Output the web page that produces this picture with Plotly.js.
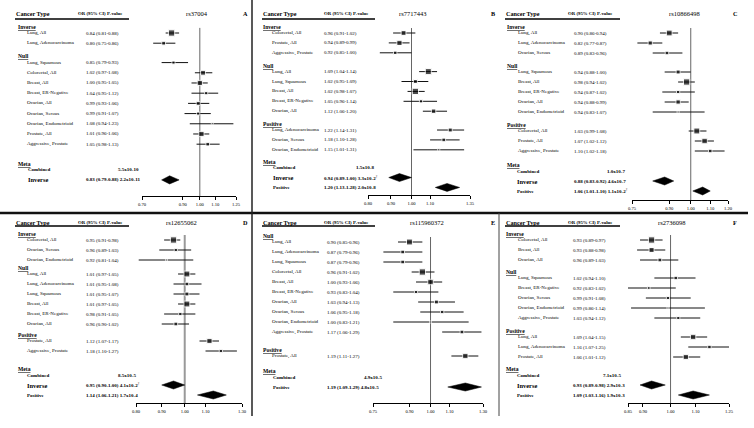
<!DOCTYPE html>
<html>
<head>
<meta charset="utf-8">
<script src="https://cdn.plot.ly/plotly-3.0.1.min.js"></script>
<style>
  body { margin: 0; background: #fff; }
  #graph { width: 754px; height: 428px; }
</style>
</head>
<body>
<div id="graph"></div>
<script>
// ---- panel A : rs37004
var aSnp = 'rs37004';
var aLabel = ['Lung, All', 'Lung, Adenocarcinoma', 'Lung, Squamous', 'Colorectal, All', 'Breast, All', 'Breast, ER-Negative', 'Ovarian, All', 'Ovarian, Serous', 'Ovarian, Endometrioid', 'Prostate, All', 'Aggressive, Prostate'];
var aGroup = ['Inverse', 'Inverse', 'Null', 'Null', 'Null', 'Null', 'Null', 'Null', 'Null', 'Null', 'Null'];
var aOR = [0.84, 0.80, 0.85, 1.02, 1.00, 1.04, 0.99, 0.99, 1.08, 1.01, 1.05];
var aLo = [0.81, 0.75, 0.79, 0.97, 0.95, 0.95, 0.93, 0.91, 0.94, 0.96, 0.98];
var aHi = [0.88, 0.86, 0.93, 1.08, 1.05, 1.12, 1.06, 1.07, 1.23, 1.06, 1.13];
var aCombP = '5.5x10-10';
var aMetaLabel = ['Inverse'];
var aMetaOR = [0.83];
var aMetaLo = [0.79];
var aMetaHi = [0.88];
var aMetaP = ['2.2x10-11'];
var aMetaNote = [''];
var aTicks = [0.70, 0.90, 1.00, 1.10, 1.25];

// ---- panel B : rs7717443
var bSnp = 'rs7717443';
var bLabel = ['Colorectal, All', 'Prostate, All', 'Aggressive, Prostate', 'Lung, All', 'Lung, Squamous', 'Breast, All', 'Breast, ER-Negative', 'Ovarian, All', 'Lung, Adenocarcinoma', 'Ovarian, Serous', 'Ovarian, Endometrioid'];
var bGroup = ['Inverse', 'Inverse', 'Inverse', 'Null', 'Null', 'Null', 'Null', 'Null', 'Positive', 'Positive', 'Positive'];
var bOR = [0.96, 0.94, 0.92, 1.09, 1.02, 1.02, 1.05, 1.12, 1.22, 1.18, 1.15];
var bLo = [0.91, 0.89, 0.85, 1.04, 0.95, 0.98, 0.96, 1.06, 1.14, 1.10, 1.01];
var bHi = [1.02, 0.99, 1.00, 1.14, 1.09, 1.07, 1.14, 1.20, 1.31, 1.28, 1.31];
var bCombP = '1.5x10-8';
var bMetaLabel = ['Inverse', 'Positive'];
var bMetaOR = [0.94, 1.20];
var bMetaLo = [0.89, 1.13];
var bMetaHi = [1.00, 1.28];
var bMetaP = ['3.3x10-2', '2.0x10-8'];
var bMetaNote = ['\u2020', ''];
var bTicks = [0.80, 0.90, 1.00, 1.10, 1.35];

// ---- panel C : rs10866498
var cSnp = 'rs10866498';
var cLabel = ['Lung, All', 'Lung, Adenocarcinoma', 'Ovarian, Serous', 'Lung, Squamous', 'Breast, All', 'Breast, ER-Negative', 'Ovarian, All', 'Ovarian, Endometrioid', 'Colorectal, All', 'Prostate, All', 'Aggressive, Prostate'];
var cGroup = ['Inverse', 'Inverse', 'Inverse', 'Null', 'Null', 'Null', 'Null', 'Null', 'Positive', 'Positive', 'Positive'];
var cOR = [0.90, 0.82, 0.89, 0.94, 0.98, 0.94, 0.94, 0.94, 1.03, 1.07, 1.10];
var cLo = [0.86, 0.77, 0.83, 0.88, 0.94, 0.87, 0.88, 0.83, 0.99, 1.02, 1.02];
var cHi = [0.94, 0.87, 0.96, 1.00, 1.02, 1.02, 0.99, 1.07, 1.08, 1.12, 1.18];
var cCombP = '1.0x10-7';
var cMetaLabel = ['Inverse', 'Positive'];
var cMetaOR = [0.88, 1.06];
var cMetaLo = [0.83, 1.01];
var cMetaHi = [0.92, 1.10];
var cMetaP = ['4.6x10-7', '1.1x10-2'];
var cMetaNote = ['', '\u2020'];
var cTicks = [0.75, 0.90, 1.00, 1.10, 1.20];

// ---- panel D : rs12655062
var dSnp = 'rs12655062';
var dLabel = ['Colorectal, All', 'Ovarian, Serous', 'Ovarian, Endometrioid', 'Lung, All', 'Lung, Adenocarcinoma', 'Lung, Squamous', 'Breast, All', 'Breast, ER-Negative', 'Ovarian, All', 'Prostate, All', 'Aggressive, Prostate'];
var dGroup = ['Inverse', 'Inverse', 'Inverse', 'Null', 'Null', 'Null', 'Null', 'Null', 'Null', 'Positive', 'Positive'];
var dOR = [0.95, 0.96, 0.92, 1.01, 1.01, 1.01, 1.01, 0.98, 0.96, 1.12, 1.18];
var dLo = [0.91, 0.89, 0.81, 0.97, 0.95, 0.95, 0.97, 0.91, 0.90, 1.07, 1.10];
var dHi = [0.98, 1.03, 1.04, 1.05, 1.08, 1.07, 1.05, 1.05, 1.02, 1.17, 1.27];
var dCombP = '8.5x10-5';
var dMetaLabel = ['Inverse', 'Positive'];
var dMetaOR = [0.95, 1.14];
var dMetaLo = [0.90, 1.06];
var dMetaHi = [1.00, 1.21];
var dMetaP = ['4.1x10-2', '1.7x10-4'];
var dMetaNote = ['\u2020', ''];
var dTicks = [0.80, 0.90, 1.00, 1.10, 1.30];

// ---- panel E : rs115960372
var eSnp = 'rs115960372';
var eLabel = ['Lung, All', 'Lung, Adenocarcinoma', 'Lung, Squamous', 'Colorectal, All', 'Breast, All', 'Breast, ER-Negative', 'Ovarian, All', 'Ovarian, Serous', 'Ovarian, Endometrioid', 'Aggressive, Prostate', 'Prostate, All'];
var eGroup = ['Null', 'Null', 'Null', 'Null', 'Null', 'Null', 'Null', 'Null', 'Null', 'Null', 'Positive'];
var eOR = [0.90, 0.87, 0.87, 0.96, 1.00, 0.93, 1.03, 1.06, 1.00, 1.17, 1.19];
var eLo = [0.85, 0.79, 0.79, 0.91, 0.93, 0.83, 0.94, 0.95, 0.83, 1.06, 1.11];
var eHi = [0.96, 0.96, 0.96, 1.02, 1.06, 1.04, 1.13, 1.18, 1.21, 1.29, 1.27];
var eCombP = '4.9x10-5';
var eMetaLabel = ['Positive'];
var eMetaOR = [1.19];
var eMetaLo = [1.09];
var eMetaHi = [1.29];
var eMetaP = ['4.8x10-5'];
var eMetaNote = [''];
var eTicks = [0.75, 0.90, 1.00, 1.10, 1.30];

// ---- panel F : rs2736098
var fSnp = 'rs2736098';
var fLabel = ['Colorectal, All', 'Breast, All', 'Ovarian, All', 'Lung, Squamous', 'Breast, ER-Negative', 'Ovarian, Serous', 'Ovarian, Endometrioid', 'Aggressive, Prostate', 'Lung, All', 'Lung, Adenocarcinoma', 'Prostate, All'];
var fGroup = ['Inverse', 'Inverse', 'Inverse', 'Null', 'Null', 'Null', 'Null', 'Null', 'Positive', 'Positive', 'Positive'];
var fOR = [0.93, 0.93, 0.96, 1.02, 0.92, 0.99, 0.99, 1.03, 1.09, 1.16, 1.06];
var fLo = [0.89, 0.88, 0.89, 0.94, 0.83, 0.91, 0.86, 0.94, 1.04, 1.07, 1.01];
var fHi = [0.97, 0.98, 1.03, 1.10, 1.02, 1.08, 1.14, 1.12, 1.15, 1.25, 1.12];
var fCombP = '7.1x10-5';
var fMetaLabel = ['Inverse', 'Positive'];
var fMetaOR = [0.93, 1.09];
var fMetaLo = [0.89, 1.03];
var fMetaHi = [0.98, 1.16];
var fMetaP = ['2.9x10-3', '1.9x10-3'];
var fMetaNote = ['', ''];
var fTicks = [0.85, 0.90, 1.00, 1.10, 1.25];

var panels = [
  {tag: 'A', snp: aSnp, label: aLabel, group: aGroup, or: aOR, lo: aLo, hi: aHi, comb: aCombP, mLabel: aMetaLabel, mOR: aMetaOR, mLo: aMetaLo, mHi: aMetaHi, mP: aMetaP, mNote: aMetaNote, ticks: aTicks},
  {tag: 'B', snp: bSnp, label: bLabel, group: bGroup, or: bOR, lo: bLo, hi: bHi, comb: bCombP, mLabel: bMetaLabel, mOR: bMetaOR, mLo: bMetaLo, mHi: bMetaHi, mP: bMetaP, mNote: bMetaNote, ticks: bTicks},
  {tag: 'C', snp: cSnp, label: cLabel, group: cGroup, or: cOR, lo: cLo, hi: cHi, comb: cCombP, mLabel: cMetaLabel, mOR: cMetaOR, mLo: cMetaLo, mHi: cMetaHi, mP: cMetaP, mNote: cMetaNote, ticks: cTicks},
  {tag: 'D', snp: dSnp, label: dLabel, group: dGroup, or: dOR, lo: dLo, hi: dHi, comb: dCombP, mLabel: dMetaLabel, mOR: dMetaOR, mLo: dMetaLo, mHi: dMetaHi, mP: dMetaP, mNote: dMetaNote, ticks: dTicks},
  {tag: 'E', snp: eSnp, label: eLabel, group: eGroup, or: eOR, lo: eLo, hi: eHi, comb: eCombP, mLabel: eMetaLabel, mOR: eMetaOR, mLo: eMetaLo, mHi: eMetaHi, mP: eMetaP, mNote: eMetaNote, ticks: eTicks},
  {tag: 'F', snp: fSnp, label: fLabel, group: fGroup, or: fOR, lo: fLo, hi: fHi, comb: fCombP, mLabel: fMetaLabel, mOR: fMetaOR, mLo: fMetaLo, mHi: fMetaHi, mP: fMetaP, mNote: fMetaNote, ticks: fTicks}
];

// page layout of each panel, in pixels
var boxes = [
  {top: 0, bottom: 213, headY: 14, ulY: 19, first: 33, ppu: 10.2, gaps: [1.9], metaGap: 1.9, axis: 196, dom: [142, 236], ref: '#666', refW: 1,
   head: 15, grp: 17, item: 26, val: 85, orHead: 77, ulEnd: 129, pEnd: 140, metaItem: 27, snpX: 197, tagX: 245},
  {top: 0, bottom: 213, headY: 14, ulY: 19, first: 33, ppu: 9.9, gaps: [1.9, 1.9], metaGap: 1.2, axis: 195, dom: [368, 470], ref: '#666', refW: 1,
   head: 262, grp: 262, item: 271, val: 323, orHead: 323, ulEnd: 375, pEnd: 375, metaItem: 272, snpX: 412, tagX: 493},
  {top: 0, bottom: 213, headY: 14, ulY: 19, first: 33, ppu: 10, gaps: [1.9, 1.9], metaGap: 1.4, axis: 200, dom: [632, 728], ref: '#666', refW: 1,
   head: 505, grp: 506, item: 517, val: 573, orHead: 567, ulEnd: 620, pEnd: 626, metaItem: 516, snpX: 684, tagX: 735},
  {top: 214, bottom: 428, headY: 222, ulY: 226, first: 240, ppu: 10, gaps: [1.4, 1.7], metaGap: 1.8, axis: 403, dom: [136, 242], ref: '#999', refW: 2,
   head: 15, grp: 17, item: 26, val: 85, orHead: 77, ulEnd: 129, pEnd: 137, metaItem: 26, snpX: 181, tagX: 245},
  {top: 214, bottom: 428, headY: 222, ulY: 226, first: 242, ppu: 10, gaps: [2.4], metaGap: 1.5, axis: 403, dom: [373, 483], ref: '#666', refW: 1,
   head: 262, grp: 262, item: 271, val: 326, orHead: 323, ulEnd: 375, pEnd: 383, metaItem: 272, snpX: 427, tagX: 493},
  {top: 214, bottom: 428, headY: 222, ulY: 226, first: 240, ppu: 10, gaps: [1.8, 1.9], metaGap: 1.2, axis: 403, dom: [628, 729], ref: '#666', refW: 1,
   head: 505, grp: 505, item: 517, val: 572, orHead: 567, ulEnd: 620, pEnd: 622, metaItem: 516, snpX: 671, tagX: 735}
];

var W = 754, H = 428;
var FONT = 'Liberation Serif, Times New Roman, serif';
function px(v) { return v / W; }
function py(v) { return 1 - v / H; }
function f2(v) { return v.toFixed(2); }
function ci(o, l, h) { return f2(o) + ' (' + f2(l) + '-' + f2(h) + ')'; }

var traces = [];
var ann = [];
var shapes = [];
var layout = {
  width: W, height: H,
  margin: {l: 0, r: 0, t: 0, b: 0},
  paper_bgcolor: '#fff', plot_bgcolor: 'rgba(0,0,0,0)',
  showlegend: false,
  font: {family: FONT, color: '#000'}
};

function note(x, y, yref, text, size, anchor) {
  ann.push({x: x, y: y, xref: 'paper', yref: yref, text: text, showarrow: false,
    xanchor: anchor || 'left', yanchor: 'middle', borderpad: 0,
    font: {family: FONT, size: size, color: '#000'}});
}

panels.forEach(function(p, k) {
  var b = boxes[k];
  var n = k + 1;
  var xa = 'x' + (n > 1 ? n : '');
  var ya = 'y' + (n > 1 ? n : '');

  // row positions (row units), group headers sit a bit above their first row
  var ys = [], heads = [], g = 0;
  for (var i = 0; i < p.label.length; i++) {
    if (i === 0) {
      ys.push(0); heads.push({name: p.group[0], y: -0.6});
    } else if (p.group[i] !== p.group[i - 1]) {
      var y = ys[i - 1] + b.gaps[g++];
      ys.push(y); heads.push({name: p.group[i], y: y - 0.6});
    } else {
      ys.push(ys[i - 1] + 1);
    }
  }
  var metaY = ys[ys.length - 1] + b.metaGap;
  var combY = metaY + 0.6;
  var mY = p.mLabel.map(function(_, j) { return combY + 1 + j; });
  var axisY = (b.axis - b.first) / b.ppu;
  var yTop = -(b.first - b.top) / b.ppu;
  var yBot = yTop + (b.bottom - b.top) / b.ppu;

  layout['xaxis' + (n > 1 ? n : '')] = {
    domain: [px(b.dom[0]), px(b.dom[1])], type: 'log',
    range: [Math.log10(p.ticks[0]), Math.log10(p.ticks[p.ticks.length - 1])],
    anchor: 'free', position: py(b.axis),
    showline: true, linecolor: '#000', linewidth: 1,
    ticks: 'outside', ticklen: 3, tickwidth: 1, tickcolor: '#000',
    tickvals: p.ticks, ticktext: p.ticks.map(f2),
    tickfont: {family: FONT, size: 4.6, color: '#000'},
    showgrid: false, zeroline: false, fixedrange: true
  };
  layout['yaxis' + (n > 1 ? n : '')] = {
    domain: [py(b.bottom), py(b.top)], range: [yBot, yTop],
    visible: false, anchor: xa, fixedrange: true
  };

  // line of no effect
  traces.push({x: [1, 1], y: [-0.5, axisY], xaxis: xa, yaxis: ya, mode: 'lines',
    line: {color: b.ref, width: b.refW}, hoverinfo: 'skip'});

  // boxes sized by precision (1 / CI width on log scale)
  var inv = p.lo.map(function(l, i) { return 1 / Math.log(p.hi[i] / l); });
  var mx = Math.max.apply(null, inv);
  traces.push({
    x: p.or, y: ys, xaxis: xa, yaxis: ya, mode: 'markers', cliponaxis: false,
    marker: {symbol: 'square', color: '#000', size: inv.map(function(v) { return Math.max(1.6, 6.3 * v / mx); })},
    error_x: {type: 'data', symmetric: false,
      array: p.hi.map(function(h, i) { return h - p.or[i]; }),
      arrayminus: p.lo.map(function(l, i) { return p.or[i] - l; }),
      color: '#111', thickness: 1, width: 0},
    hoverinfo: 'skip'
  });

  // meta-analysis diamonds
  p.mOR.forEach(function(o, j) {
    var yy = mY[j], h = 0.4;
    traces.push({x: [p.mLo[j], o, p.mHi[j], o, p.mLo[j]], y: [yy, yy - h, yy, yy + h, yy],
      xaxis: xa, yaxis: ya, mode: 'lines', fill: 'toself', fillcolor: '#000',
      line: {color: '#000', width: 0.5}, hoverinfo: 'skip'});
  });

  // header row
  note(px(b.head), py(b.headY), 'paper', '<b>Cancer Type</b>', 6.2);
  note(px(b.orHead), py(b.headY), 'paper', '<b>OR (95% CI) P-value</b>', 4.8);
  note(px(b.snpX), py(b.headY), 'paper', p.snp, 6.5, 'center');
  note(px(b.tagX), py(b.headY), 'paper', '<b>' + p.tag + '</b>', 6.2, 'center');
  shapes.push({type: 'line', xref: 'paper', yref: 'paper', x0: px(b.head), x1: px(b.ulEnd),
    y0: py(b.ulY), y1: py(b.ulY), line: {color: '#000', width: 1.3}});

  // table rows
  heads.forEach(function(hd) {
    note(px(b.grp), hd.y, ya, '<b><u>' + hd.name + '</u></b>', 5.6);
  });
  p.label.forEach(function(lab, i) {
    note(px(b.item), ys[i], ya, lab, 5);
    note(px(b.val), ys[i], ya, ci(p.or[i], p.lo[i], p.hi[i]), 5);
  });

  // meta block
  note(px(b.grp), metaY, ya, '<b><u>Meta</u></b>', 5.6);
  note(px(b.metaItem), combY, ya, '<b>Combined</b>', 5);
  note(px(b.pEnd), combY, ya, '<b>' + p.comb + '</b>', 5, 'right');
  p.mLabel.forEach(function(lab, j) {
    note(px(b.metaItem), mY[j], ya, '<b>' + lab + '</b>', lab === 'Inverse' ? 6.4 : 5);
    var txt = '<b>' + ci(p.mOR[j], p.mLo[j], p.mHi[j]) + ' ' + p.mP[j] + '</b>';
    if (p.mNote[j]) txt += '<sup>' + p.mNote[j] + '</sup>';
    note(px(b.val), mY[j], ya, txt, 5);
  });
});

// panel frames
shapes.push({type: 'line', xref: 'paper', yref: 'paper', x0: 0, x1: px(748), y0: py(213), y1: py(213), line: {color: '#111', width: 2.5}});
shapes.push({type: 'line', xref: 'paper', yref: 'paper', x0: px(252), x1: px(252), y0: py(0), y1: py(416), line: {color: '#222', width: 1.5}});
shapes.push({type: 'line', xref: 'paper', yref: 'paper', x0: px(499), x1: px(499), y0: py(213), y1: py(416), line: {color: '#444', width: 1}});

layout.annotations = ann;
layout.shapes = shapes;

Plotly.newPlot('graph', traces, layout, {staticPlot: true, displayModeBar: false});
</script>
</body>
</html>
